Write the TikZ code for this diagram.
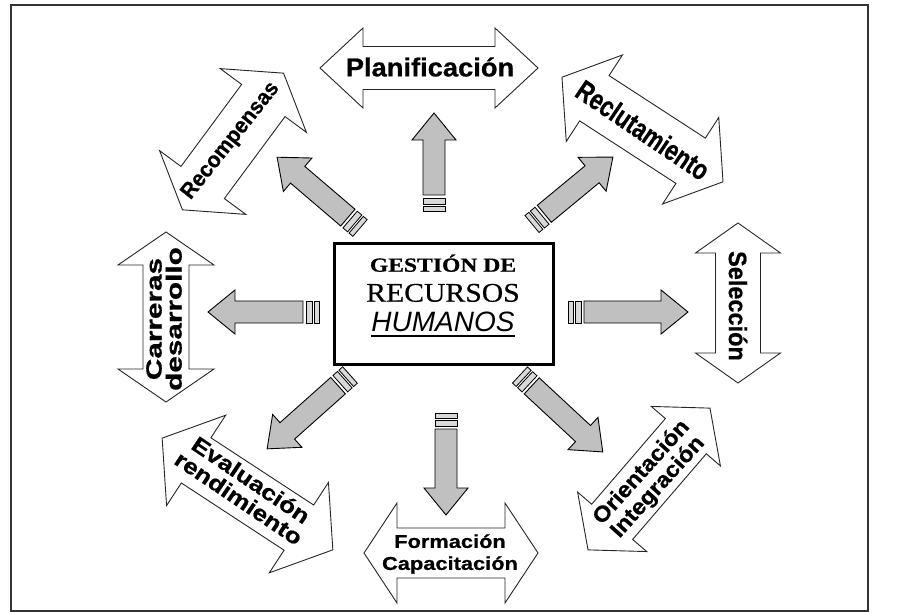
\documentclass[tikz,border=0pt]{standalone}
\usepackage{fontspec}
\setmainfont{Liberation Serif}
\newfontfamily\arialfont{Liberation Sans}
\newfontfamily\heavyfont[FakeBold=0.7]{Liberation Sans Bold}
\newfontfamily\heavyserif[FakeBold=0.6]{Liberation Serif Bold}
\newfontfamily\midserif[FakeBold=0.5]{Liberation Serif}
\usetikzlibrary{calc}

\definecolor{arrowgray}{HTML}{C0C0C0}
\definecolor{capgray}{HTML}{D8D8D8}

\tikzset{
  grayarrow/.style={draw=black, line width=0.9pt, fill=arrowgray, line join=miter},
  capbox/.style={draw=black, line width=0.8pt, fill=capgray},
  twoway/.style={draw=black!85, line width=0.9pt, fill=white, line join=miter},
  lbl/.style={inner sep=0pt, align=center},
}
\newcommand\lf[2]{\heavyfont\fontsize{#1}{#2}\selectfont}

% solid gray arrow with two end caps: tail x, tail y, direction, length
\newcommand\solidarrow[4]{%
  \begin{scope}[shift={(#1,#2)}, rotate=#3]
    \draw[capbox] (0,-11) rectangle (5,11);
    \draw[capbox] (7,-11) rectangle (13,11);
    \draw[grayarrow] (16,-11) -- ({#4-27},-11) -- ({#4-27},-22) -- (#4,0)
      -- ({#4-27},22) -- ({#4-27},11) -- (16,11) -- cycle;
  \end{scope}}

% hollow double-headed arrow: centre x, centre y, direction, length,
% head length, head half-width, shaft half-width
\newcommand\twowayarrow[7]{%
  \begin{scope}[shift={(#1,#2)}, rotate=#3]
    \pgfmathsetmacro\dhalf{#4/2}\pgfmathsetmacro\dbase{#4/2-#5}
    \draw[twoway] (-\dhalf,0) -- (-\dbase,#6) -- (-\dbase,#7) -- (\dbase,#7)
      -- (\dbase,#6) -- (\dhalf,0) -- (\dbase,-#6) -- (\dbase,-#7)
      -- (-\dbase,-#7) -- (-\dbase,-#6) -- cycle;
  \end{scope}}

\begin{document}
\begin{tikzpicture}[x=1pt, y=-1pt]
\useasboundingbox (0,0) rectangle (902,612);
\draw[line width=2pt, draw=black!80] (10.5,5.5) rectangle (868,611);

% outer hollow arrows
\twowayarrow{429}{68}{0}{218}{43}{40}{21.5}
\twowayarrow{642.5}{129.5}{-33}{192}{38.6}{51.6}{27}
\twowayarrow{233}{141.5}{53.5}{170}{34}{53.6}{27}
\twowayarrow{738}{303}{90}{160}{30}{42.5}{22.5}
\twowayarrow{166}{317}{90}{170}{33}{48}{23}
\twowayarrow{247.5}{494}{-33.2}{204}{40.6}{54}{27}
\twowayarrow{451}{553}{0}{174}{33}{50}{25}
\twowayarrow{649}{479}{49.3}{187}{37}{45.6}{27}

% labels
\node[lbl, font=\lf{26}{26}] (plan) at (430,67) {\scalebox{1.05}[1]{Planificación}};
\node[lbl, font=\lf{29}{29}, rotate=-34] (recl) at (643,130) {\scalebox{0.77}[1]{Reclutamiento}};
\node[lbl, font=\lf{22}{22}, rotate=51.5] (recomp) at (231,141) {\scalebox{0.96}[1]{Recompensas}};
\node[lbl, font=\lf{25}{25}, rotate=-90] (sel) at (738,306) {\scalebox{0.94}[1]{Selección}};
\node[lbl, font=\lf{22}{20}, rotate=90] (carr) at (164,319) {\scalebox{1.35}[1]{Carreras}\\\scalebox{1.35}[1]{desarrollo}};
\node[lbl, font=\lf{22}{22}, rotate=-34] (eval) at (245,489) {\scalebox{1.18}[1]{Evaluación}\\\scalebox{1.18}[1]{rendimiento}};
\node[lbl, font=\lf{18.5}{22}] (form) at (450,554) {\scalebox{1.18}[1]{Formación}\\\scalebox{1.18}[1]{Capacitación}};
\node[lbl, font=\lf{22}{22}, rotate=48] (orient) at (650,480) {\scalebox{1.08}[1]{Orientación}\\\scalebox{1.08}[1]{Integración}};

% central box
\node[draw, line width=3pt, minimum width=219pt, minimum height=120pt, inner sep=0pt] (hub) at (443.5,304) {};
\node[inner sep=0pt, anchor=base] (l1) at (443,271.7) {\heavyserif\fontsize{20}{20}\selectfont\scalebox{1.18}[1]{GESTIÓN DE}};
\node[inner sep=0pt, anchor=base] (l2) at (443,301.7) {\midserif\fontsize{27}{27}\selectfont\scalebox{1.1}[1]{RECURSOS}};
\node[inner sep=0pt, anchor=base] (l3) at (443,331.7) {\arialfont\itshape\fontsize{28}{28}\selectfont HUMANOS};
\draw[line width=1.8pt] ($(l3.base west)+(0,4.5)$) -- ($(l3.base east)+(0,4.5)$);

% gray arrows from the hub
\solidarrow{434}{211}{90}{98}
\solidarrow{446}{413}{-90}{102}
\solidarrow{319}{312}{180}{111}
\solidarrow{568}{312}{0}{120}
\solidarrow{360}{228}{139.5}{109}
\solidarrow{532}{224}{39.6}{105}
\solidarrow{350}{375}{-138.3}{111}
\solidarrow{520}{375}{-42.9}{113}
\end{tikzpicture}
\end{document}
